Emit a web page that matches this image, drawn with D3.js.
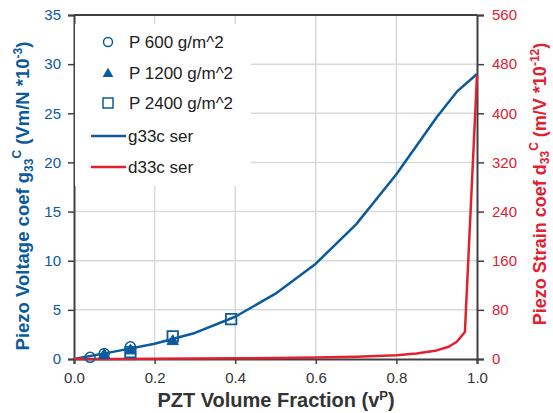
<!DOCTYPE html>
<html><head><meta charset="utf-8">
<script src="https://cdn.jsdelivr.net/npm/d3@7"></script>
<style>body{margin:0;background:#fff;} svg{display:block;font-family:"Liberation Sans",Arial,sans-serif;}</style>
</head><body>
<svg id="c" width="553" height="413"></svg>
<script>
// ---- data ----
const xTicks = [0, 0.2, 0.4, 0.6, 0.8, 1.0];
const gTicks = [0, 5, 10, 15, 20, 25, 30, 35];
const dTicks = [0, 80, 160, 240, 320, 400, 480, 560];

const gFraction = [0, 0.1, 0.2, 0.3, 0.4, 0.5, 0.6, 0.7, 0.8, 0.9, 0.95, 1.0];
const g33ser    = [0, 0.75, 1.55, 2.65, 4.3, 6.65, 9.7, 13.7, 18.8, 24.6, 27.2, 29.0];

const dFraction = [0, 0.1, 0.2, 0.3, 0.4, 0.5, 0.6, 0.7, 0.8, 0.85, 0.9, 0.93, 0.95, 0.97, 1.0];
const d33ser    = [0, 0.2, 0.4, 0.7, 1.1, 1.6, 2.4, 3.6, 6, 9, 14, 20, 28, 44, 462];

const p600x  = [0.04, 0.075, 0.14];
const p600y  = [0.17, 0.55, 1.25];
const p1200x = [0.075, 0.14, 0.245];
const p1200y = [0.5, 0.95, 1.9];
const p2400x = [0.14, 0.245, 0.39];
const p2400y = [0.7, 2.3, 4.05];

const legendLabels = ["P 600 g/m^2", "P 1200 g/m^2", "P 2400 g/m^2", "g33c ser", "d33c ser"];

// ---- drawing ----
const BLUE = "#0b5b9c", RED = "#e3202f", GRID = "#d9d9d9", AX = "#404040";
const svg = d3.select("#c");
const x = d3.scaleLinear().domain([0, 1]).range([74, 477]);
const yL = d3.scaleLinear().domain([0, 35]).range([359, 15]);
const yR = d3.scaleLinear().domain([0, 560]).range([359, 15]);

// grid
svg.append("g").selectAll("line").data(xTicks.slice(1, -1)).join("line")
  .attr("x1", d => x(d)).attr("x2", d => x(d)).attr("y1", yL(0)).attr("y2", yL(35))
  .attr("stroke", GRID).attr("stroke-width", 1.5);
svg.append("g").selectAll("line").data(gTicks.slice(1, -1)).join("line")
  .attr("y1", d => yL(d)).attr("y2", d => yL(d)).attr("x1", x(0)).attr("x2", x(1))
  .attr("stroke", GRID).attr("stroke-width", 1.5);

// axes
function styleAxis(g, color) {
  g.select(".domain").attr("stroke", AX).attr("stroke-width", 2);
  g.selectAll(".tick line").attr("stroke", AX).attr("stroke-width", 1.5);
  g.selectAll(".tick text").attr("fill", color).style("font-size", "15px")
    .style("font-family", "'Liberation Sans',Arial,sans-serif");
}
svg.append("g").attr("transform", `translate(0,${yL(0)})`)
  .call(d3.axisBottom(x).tickValues(xTicks).tickFormat(d3.format(".1f")).tickSizeOuter(0).tickSize(5).tickPadding(8))
  .call(g => styleAxis(g, "#333"));
svg.append("g").attr("transform", `translate(${x(0)},0)`)
  .call(d3.axisLeft(yL).tickValues(gTicks).tickSizeOuter(0).tickSize(6).tickPadding(7))
  .call(g => styleAxis(g, BLUE));
svg.append("g").attr("transform", `translate(${x(1)},0)`)
  .call(d3.axisRight(yR).tickValues(dTicks).tickSizeOuter(0).tickSize(7).tickPadding(8))
  .call(g => styleAxis(g, RED));
// top border
svg.append("line").attr("x1", x(0)).attr("x2", x(1)).attr("y1", yL(35)).attr("y2", yL(35))
  .attr("stroke", AX).attr("stroke-width", 2);

// legend background
svg.append("rect").attr("x", 75).attr("y", 24).attr("width", 176).attr("height", 162).attr("fill", "#fff");

// lines
const lineG = d3.line().x(d => x(d[0])).y(d => yL(d[1]));
const lineD = d3.line().x(d => x(d[0])).y(d => yR(d[1]));
svg.append("path").datum(gFraction.map((f, i) => [f, g33ser[i]])).attr("d", lineG)
  .attr("fill", "none").attr("stroke", BLUE).attr("stroke-width", 2.5).attr("stroke-linejoin", "round");
svg.append("path").datum(dFraction.map((f, i) => [f, d33ser[i]])).attr("d", lineD)
  .attr("fill", "none").attr("stroke", RED).attr("stroke-width", 2.5).attr("stroke-linejoin", "round");

// markers
const tri = d3.symbol().type(d3.symbolTriangle).size(55)();
const sq = d3.symbol().type(d3.symbolSquare).size(110)();
svg.append("g").selectAll("circle").data(p600x.map((f, i) => [f, p600y[i]])).join("circle")
  .attr("cx", d => x(d[0])).attr("cy", d => yL(d[1])).attr("r", 5)
  .attr("fill", "none").attr("stroke", BLUE).attr("stroke-width", 1.5);
svg.append("g").selectAll("path").data(p1200x.map((f, i) => [f, p1200y[i]])).join("path")
  .attr("d", tri).attr("transform", d => `translate(${x(d[0])},${yL(d[1]) + 1})`)
  .attr("fill", BLUE).attr("stroke", BLUE).attr("stroke-width", 1);
svg.append("g").selectAll("path").data(p2400x.map((f, i) => [f, p2400y[i]])).join("path")
  .attr("d", sq).attr("transform", d => `translate(${x(d[0])},${yL(d[1])})`)
  .attr("fill", "none").attr("stroke", BLUE).attr("stroke-width", 1.8);

// legend
const lg = svg.append("g").style("font-size", "17px").attr("fill", "#222");
const ly = [42, 73, 103, 136, 167];
lg.append("circle").attr("cx", 108).attr("cy", ly[0]).attr("r", 4.5).attr("fill", "none").attr("stroke", BLUE).attr("stroke-width", 1.5);
lg.append("path").attr("d", d3.symbol().type(d3.symbolTriangle).size(50)()).attr("transform", `translate(108,${ly[1] + 1})`).attr("fill", BLUE);
lg.append("rect").attr("x", 103).attr("y", ly[2] - 5).attr("width", 10).attr("height", 10).attr("fill", "none").attr("stroke", BLUE).attr("stroke-width", 1.5);
lg.append("line").attr("x1", 91).attr("x2", 126).attr("y1", ly[3]).attr("y2", ly[3]).attr("stroke", BLUE).attr("stroke-width", 2.5);
lg.append("line").attr("x1", 91).attr("x2", 126).attr("y1", ly[4]).attr("y2", ly[4]).attr("stroke", RED).attr("stroke-width", 2.5);
legendLabels.forEach((t, i) => {
  lg.append("text").attr("x", i < 3 ? 129 : 128).attr("y", ly[i]).attr("dy", "0.36em").text(t);
});

// axis titles
svg.append("text").attr("x", 276).attr("y", 407).attr("text-anchor", "middle")
  .style("font-size", "20px").style("font-weight", "bold").attr("fill", "#333")
  .call(t => {
    t.append("tspan").text("PZT Volume Fraction (v");
    t.append("tspan").attr("dy", -7).style("font-size", "13px").text("P");
    t.append("tspan").attr("dy", 7).text(")");
  });

const lt = svg.append("text").attr("transform", "translate(29,196) rotate(-90)").attr("text-anchor", "middle")
  .style("font-size", "18.5px").style("font-weight", "bold").attr("fill", BLUE);
lt.append("tspan").text("Piezo Voltage coef g");
lt.append("tspan").attr("dy", 4).style("font-size", "12px").text("33");
lt.append("tspan").attr("dy", -12).style("font-size", "12px").text("C");
lt.append("tspan").attr("dy", 8).text(" (Vm/N *10");
lt.append("tspan").attr("dy", -7).style("font-size", "12px").text("-3");
lt.append("tspan").attr("dy", 7).text(")");

const rt = svg.append("text").attr("transform", "translate(546,184) rotate(-90)").attr("text-anchor", "middle")
  .style("font-size", "18px").style("font-weight", "bold").attr("fill", RED);
rt.append("tspan").text("Piezo Strain coef d");
rt.append("tspan").attr("dy", 3).style("font-size", "12px").text("33");
rt.append("tspan").attr("dy", -11).style("font-size", "12px").text("C");
rt.append("tspan").attr("dy", 8).text(" (m/V *10");
rt.append("tspan").attr("dy", -7).style("font-size", "12px").text("-12");
rt.append("tspan").attr("dy", 7).text(")");
</script>
</body></html>
